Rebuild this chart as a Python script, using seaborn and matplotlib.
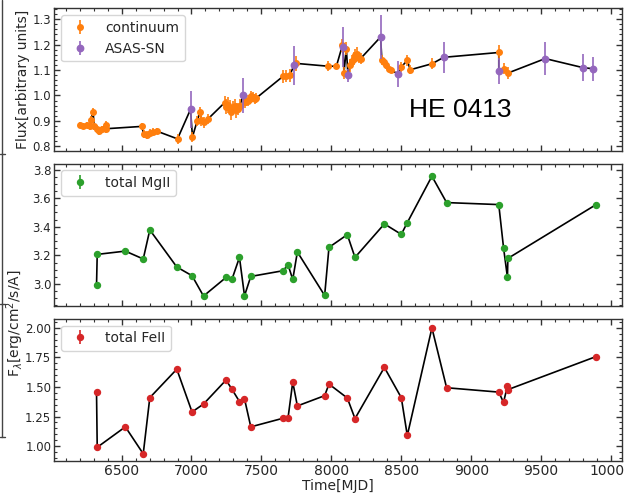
import numpy as np
import pandas as pd
import matplotlib
matplotlib.use("Agg")
import matplotlib.pyplot as plt
import seaborn as sns
from matplotlib.lines import Line2D

# ---------------- data ----------------
cont_mjd = [6202, 6226, 6254, 6274, 6278, 6297, 6304, 6321, 6340, 6357, 6388, 6392,
            6643, 6659, 6679, 6702, 6726, 6750, 6900, 7007, 7040, 7059, 7071, 7088, 7119,
            7238, 7250, 7261, 7274, 7285, 7297, 7309, 7321, 7333, 7345, 7381, 7393, 7404,
            7416, 7429, 7440, 7452, 7464, 7654, 7678, 7702, 7750, 7976, 8036, 8079, 8090,
            8107, 8136, 8148, 8160, 8172, 8184, 8196, 8209, 8361, 8376, 8393, 8409, 8424,
            8500, 8543, 8564, 8721, 9197, 9231, 9262]
cont_flux = [0.882, 0.878, 0.882, 0.878, 0.904, 0.934, 0.878, 0.869, 0.860, 0.869, 0.882, 0.869,
             0.878, 0.849, 0.845, 0.852, 0.858, 0.860, 0.829, 0.837, 0.898, 0.934, 0.905, 0.895, 0.908,
             0.972, 0.956, 0.962, 0.951, 0.934, 0.954, 0.957, 0.941, 0.947, 0.960, 0.974, 0.980, 0.980,
             0.985, 0.996, 0.993, 0.987, 0.990, 1.075, 1.077, 1.079, 1.126, 1.115, 1.115, 1.197, 1.088,
             1.184, 1.118, 1.134, 1.145, 1.158, 1.165, 1.149, 1.145, 1.141, 1.132, 1.118, 1.105, 1.099,
             1.112, 1.138, 1.101, 1.125, 1.169, 1.105, 1.088]
cont_err = [0.012, 0.012, 0.012, 0.015, 0.015, 0.015, 0.015, 0.015, 0.015, 0.012, 0.018, 0.015,
            0.012, 0.015, 0.015, 0.015, 0.012, 0.012, 0.020, 0.020, 0.020, 0.020, 0.025, 0.022, 0.020,
            0.025, 0.028, 0.030, 0.030, 0.030, 0.025, 0.028, 0.030, 0.025, 0.025, 0.025, 0.022, 0.022,
            0.020, 0.020, 0.020, 0.020, 0.020, 0.025, 0.025, 0.025, 0.028, 0.020, 0.012, 0.025, 0.025,
            0.025, 0.025, 0.025, 0.025, 0.025, 0.025, 0.022, 0.022, 0.020, 0.015, 0.015, 0.012, 0.012,
            0.020, 0.022, 0.018, 0.022, 0.028, 0.022, 0.022]

asas_mjd = [6993, 7369, 7733, 8083, 8119, 8352, 8479, 8803, 9197, 9529, 9802, 9874]
asas_flux = [0.945, 1.000, 1.118, 1.191, 1.079, 1.230, 1.085, 1.150, 1.096, 1.145, 1.109, 1.105]
asas_err = [0.073, 0.070, 0.075, 0.080, 0.025, 0.085, 0.050, 0.060, 0.050, 0.066, 0.053, 0.048]

epoch_mjd = [6321, 6326, 6527, 6655, 6702, 6895, 7004, 7086, 7247, 7290, 7343, 7379, 7424,
             7655, 7690, 7724, 7757, 7952, 7983, 8114, 8169, 8379, 8500, 8543, 8719, 8824,
             9197, 9231, 9259, 9262, 9893]
mgii_flux = [2.990, 3.207, 3.230, 3.175, 3.378, 3.119, 3.058, 2.916, 3.046, 3.035, 3.186, 2.918, 3.053,
             3.093, 3.135, 3.032, 3.224, 2.920, 3.256, 3.345, 3.186, 3.420, 3.347, 3.429, 3.753, 3.569,
             3.555, 3.254, 3.046, 3.179, 3.555]
mgii_err = [0.02] * len(mgii_flux)
feii_flux = [1.457, 0.990, 1.163, 0.935, 1.410, 1.651, 1.289, 1.356, 1.559, 1.480, 1.377, 1.400, 1.163,
             1.236, 1.236, 1.542, 1.340, 1.427, 1.525, 1.407, 1.233, 1.666, 1.410, 1.090, 2.000, 1.494,
             1.457, 1.370, 1.510, 1.478, 1.758]
feii_err = [0.008] * len(feii_flux)

top_yticks = [0.8, 0.9, 1.0, 1.1, 1.2, 1.3]
mid_yticks = [3.0, 3.2, 3.4, 3.6, 3.8]
bot_yticks = [1.00, 1.25, 1.50, 1.75, 2.00]
x_ticks = [6500, 7000, 7500, 8000, 8500, 9000, 9500, 10000]

# ---------------- style ----------------
sns.set_style("ticks")
plt.rcParams['font.family'] = ['DejaVu Sans']
plt.rcParams['font.size'] = 10
plt.rcParams['axes.edgecolor'] = '#333333'
plt.rcParams['axes.linewidth'] = 1.0

C_ORANGE = '#ff7f0e'
C_PURPLE = '#9467bd'
C_GREEN = '#2ca02c'
C_RED = '#d62728'

fig, axes = plt.subplots(3, 1, figsize=(6.25, 4.93), dpi=100, sharex=True)
fig.subplots_adjust(left=0.0864, right=0.9952, top=0.9832, bottom=0.0649, hspace=0.091)
ax1, ax2, ax3 = axes

# top panel: combined line
top = pd.concat([
    pd.DataFrame({'mjd': cont_mjd, 'flux': cont_flux, 'src': 0}),
    pd.DataFrame({'mjd': asas_mjd, 'flux': asas_flux, 'src': 1}),
]).sort_values(['mjd', 'src'], kind='mergesort').reset_index(drop=True)
sns.lineplot(data=top, x='mjd', y='flux', color='k', lw=1.2, sort=False, estimator=None,
             ax=ax1, legend=False, zorder=1)
ax1.errorbar(cont_mjd, cont_flux, yerr=cont_err, fmt='o', color=C_ORANGE, ms=4.0,
             elinewidth=1.2, capsize=0, zorder=3, label='continuum')
ax1.errorbar(asas_mjd, asas_flux, yerr=asas_err, fmt='o', color=C_PURPLE, ms=4.6,
             elinewidth=1.2, capsize=0, zorder=4, label='ASAS-SN')
ax1.set_ylim(0.783, 1.343)
ax1.set_yticks(top_yticks)
ax1.set_ylabel('Flux[arbitrary units]', fontsize=10)
ax1.yaxis.set_label_coords(-0.042, 0.5)
ax1.legend(loc='upper left', fontsize=10)

# middle panel
mg = pd.DataFrame({'mjd': epoch_mjd, 'flux': mgii_flux})
sns.lineplot(data=mg, x='mjd', y='flux', color='k', lw=1.2, sort=False, estimator=None,
             ax=ax2, legend=False, zorder=1)
ax2.errorbar(epoch_mjd, mgii_flux, yerr=mgii_err, fmt='o', color=C_GREEN, ms=4.3,
             elinewidth=1.2, capsize=0, zorder=3, label='total MgII')
ax2.set_ylim(2.848, 3.842)
ax2.set_yticks(mid_yticks)
ax2.set_ylabel('')
ax2.legend(loc='upper left', fontsize=10)

# bottom panel
fe = pd.DataFrame({'mjd': epoch_mjd, 'flux': feii_flux})
sns.lineplot(data=fe, x='mjd', y='flux', color='k', lw=1.2, sort=False, estimator=None,
             ax=ax3, legend=False, zorder=1)
ax3.errorbar(epoch_mjd, feii_flux, yerr=feii_err, fmt='o', color=C_RED, ms=4.3,
             elinewidth=1.2, capsize=0, zorder=3, label='total FeII')
ax3.set_ylim(0.874, 2.078)
ax3.set_yticks(bot_yticks)
ax3.set_ylabel('')
ax3.legend(loc='upper left', fontsize=10)
ax3.set_xlim(6017, 10078)
ax3.set_xticks(x_ticks)
ax3.set_xlabel('Time[MJD]', fontsize=10, labelpad=1)
ax1.set_xlabel('')
ax2.set_xlabel('')

for ax in axes:
    ax.minorticks_on()
    ax.tick_params(which='both', direction='in', top=True, right=True, color='#333333')
    ax.tick_params(axis='x', labelsize=10, pad=2)
    ax.tick_params(axis='y', labelsize=8.5, pad=2)
    ax.tick_params(which='major', length=4, width=1)
    ax.tick_params(which='minor', length=2.2, width=0.8)

ax3.yaxis.set_major_formatter(matplotlib.ticker.FormatStrFormatter('%.2f'))

fig.text(15.5 / 625, 1 - 323 / 493, r'F$_\lambda$[erg/cm$^2$/s/A]', rotation=90,
         ha='center', va='center', fontsize=10, color='.15')
fig.text(460 / 625, 1 - 110 / 493, 'HE 0413', ha='center', va='center', fontsize=19,
         family=['Liberation Sans', 'DejaVu Sans'], color='k')

# cropped frame edge of a neighbouring panel at the far left
fig.add_artist(Line2D([2 / 625, 2 / 625], [1.0, 1 - 437 / 493], transform=fig.transFigure,
                      color='#444444', lw=1))
for yy in (154, 304, 437):
    fig.add_artist(Line2D([0, 5 / 625], [1 - yy / 493, 1 - yy / 493], transform=fig.transFigure,
                          color='#444444', lw=1))

fig.savefig('out.png', dpi=100)
